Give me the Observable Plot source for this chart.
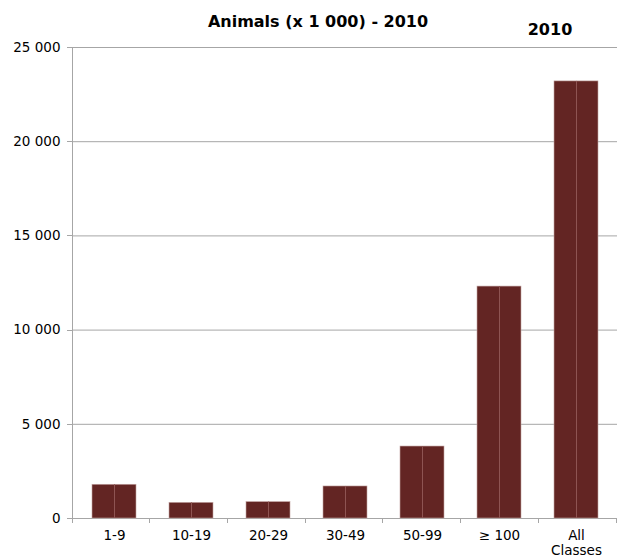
<!DOCTYPE html>
<html>
<head>
<meta charset="utf-8">
<script src="https://cdn.jsdelivr.net/npm/d3@7"></script>
<script src="https://cdn.jsdelivr.net/npm/@observablehq/plot@0.6"></script>
<style>
  html, body { margin: 0; padding: 0; background: #fff; }
</style>
</head>
<body>
<div id="chart"></div>
<script>
const title = "Animals (x 1 000) - 2010";
const seriesName = "2010";
const categories = ["1-9", "10-19", "20-29", "30-49", "50-99", "≥ 100", "All Classes"];
const tickLabels = ["1-9", "10-19", "20-29", "30-49", "50-99", "≥ 100", "All\nClasses"];
const values = [1790, 830, 870, 1700, 3820, 12310, 23200];
const yTicks = [0, 5000, 10000, 15000, 20000, 25000];

const data = categories.map((c, i) => ({cat: c, label: tickLabels[i], value: values[i]}));
const fmt = d => d3.format(",")(d).replace(/,/g, " ");
const grid = "#a6a6a6";

const axes = (index, scales, channels, dims) => {
  const {y} = scales;
  const left = dims.marginLeft, right = dims.width - dims.marginRight;
  const top = dims.marginTop, bottom = dims.height - dims.marginBottom;
  const g = d3.create("svg:g").attr("stroke", grid).attr("stroke-width", 1).attr("fill", "none");
  g.append("line").attr("x1", left + 0.5).attr("x2", left + 0.5).attr("y1", top).attr("y2", bottom + 5);
  for (const t of yTicks) {
    g.append("line").attr("x1", left - 5).attr("x2", left).attr("y1", Math.round(y(t)) + 0.5).attr("y2", Math.round(y(t)) + 0.5);
  }
  const n = categories.length;
  const step = (right - left) / n;
  for (let i = 1; i <= n; i++) {
    const xx = Math.round(left + i * step) - 0.5;
    g.append("line").attr("x1", xx).attr("x2", xx).attr("y1", bottom).attr("y2", bottom + 5);
  }
  return g.node();
};

const chart = Plot.plot({
  width: 617,
  height: 559,
  marginTop: 47,
  marginBottom: 41,
  marginLeft: 72,
  marginRight: 0,
  style: {fontFamily: "'DejaVu Sans', Verdana, sans-serif", fontSize: "13.5px", background: "#fff", color: "#000"},
  x: {domain: categories, paddingInner: 0.435, paddingOuter: 0.2175, axis: null},
  y: {domain: [0, 25000], ticks: yTicks, tickFormat: fmt, tickSize: 0, tickPadding: 12, label: null},
  marks: [
    Plot.ruleY(yTicks, {stroke: grid, strokeWidth: 1}),
    Plot.barY(data, {x: "cat", y: "value", fill: "#632523", stroke: "#c2a3a2", strokeWidth: 0.6}),
    Plot.ruleX(data, {x: "cat", y1: 0, y2: "value", stroke: "#8e5452", strokeWidth: 1}),
    axes,
    Plot.text(data, {x: "cat", text: "label", frameAnchor: "bottom", lineAnchor: "top", lineHeight: 1.1, dy: 11, fontSize: 13.5, fill: "#000"}),
    Plot.text([title], {frameAnchor: "top", dx: -27, dy: -26, lineAnchor: "middle", fontWeight: "bold", fontSize: 16, fill: "#000"}),
    Plot.text([seriesName], {frameAnchor: "top", dx: 205, dy: -18, lineAnchor: "middle", fontWeight: "bold", fontSize: 16, fill: "#000"})
  ]
});
document.getElementById("chart").appendChild(chart);
</script>
</body>
</html>
